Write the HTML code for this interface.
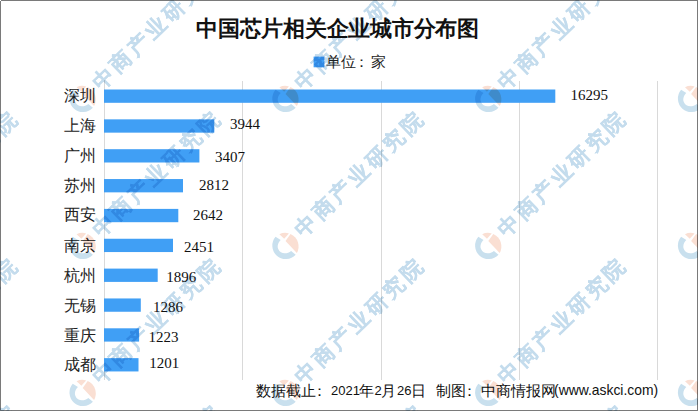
<!DOCTYPE html>
<html><head><meta charset="utf-8">
<style>
html,body{margin:0;padding:0;background:#fff;}
body{width:698px;height:412px;position:relative;overflow:hidden;font-family:"Liberation Sans",sans-serif;}
.frame{position:absolute;left:0;top:0;width:698px;height:411px;box-sizing:border-box;border:1px solid #7a7a7a;}
.t{position:absolute;white-space:nowrap;line-height:1;}
.title{font-weight:bold;font-size:22px;color:#111;left:196px;top:18px;letter-spacing:-0.25px;}
.legend{font-size:15px;color:#222;left:326px;top:53.5px;}
.colon{position:relative;left:-2.5px;}
.cat{font-size:16px;color:#222;width:60px;text-align:right;left:35.7px;}
.val{font-family:"Liberation Serif",serif;font-size:15px;color:#111;}
.foot{font-size:15px;color:#111;top:382.5px;}
.foot2{font-size:13px;color:#111;top:383.5px;}
svg{position:absolute;left:0;top:0;}
.wmsvg{mix-blend-mode:multiply;}
</style></head><body>
<div class="frame"></div>
<svg width="698" height="412" viewBox="0 0 698 412">
  <g fill="#d9d9d9">
    <rect x="104" y="80" width="1" height="300"/>
    <rect x="242" y="81" width="1" height="299"/>
    <rect x="381" y="81" width="1" height="299"/>
    <rect x="519" y="81" width="1" height="299"/>
    <rect x="657" y="81" width="1" height="299"/>
  </g>
  <g fill="#409ff5">
    <rect x="104" y="89.5" width="451.3" height="13.3"/>
    <rect x="104" y="119.35" width="110.3" height="13.3"/>
    <rect x="104" y="149.2" width="95.4" height="13.3"/>
    <rect x="104" y="179.05" width="79" height="13.3"/>
    <rect x="104" y="208.9" width="74.3" height="13.3"/>
    <rect x="104" y="238.75" width="69" height="13.3"/>
    <rect x="104" y="268.6" width="53.7" height="13.3"/>
    <rect x="104" y="298.45" width="36.8" height="13.3"/>
    <rect x="104" y="328.3" width="35.1" height="13.3"/>
    <rect x="104" y="358.15" width="34.5" height="13.3"/>
  </g>
  <rect x="313.6" y="56.6" width="10.8" height="10.7" fill="#409ff5"/>
</svg>

<div class="t title">中国芯片相关企业城市分布图</div>
<div class="t legend">单位<span class="colon">：</span>家</div>

<div class="t cat" style="top:88px">深圳</div>
<div class="t cat" style="top:117.7px">上海</div>
<div class="t cat" style="top:148.2px">广州</div>
<div class="t cat" style="top:178.2px">苏州</div>
<div class="t cat" style="top:207.4px">西安</div>
<div class="t cat" style="top:238.2px">南京</div>
<div class="t cat" style="top:267.7px">杭州</div>
<div class="t cat" style="top:297.7px">无锡</div>
<div class="t cat" style="top:327.7px">重庆</div>
<div class="t cat" style="top:357px">成都</div>

<div class="t val" style="left:570.5px;top:87.5px">16295</div>
<div class="t val" style="left:230px;top:117px">3944</div>
<div class="t val" style="left:215px;top:150px">3407</div>
<div class="t val" style="left:199px;top:178px">2812</div>
<div class="t val" style="left:193px;top:207.5px">2642</div>
<div class="t val" style="left:184px;top:239.5px">2451</div>
<div class="t val" style="left:166.3px;top:270px">1896</div>
<div class="t val" style="left:153px;top:300px">1286</div>
<div class="t val" style="left:148.5px;top:329.5px">1223</div>
<div class="t val" style="left:149.3px;top:356px">1201</div>

<div class="t foot" style="left:256px">数据截止<span class="colon" style="left:-4px">：</span></div>
<div class="t foot2" style="left:331px">2021</div>
<div class="t foot" style="left:359px">年</div>
<div class="t foot2" style="left:374.5px">2</div>
<div class="t foot" style="left:381px">月</div>
<div class="t foot2" style="left:397px">26</div>
<div class="t foot" style="left:410.5px">日</div>
<div class="t foot" style="left:436px">制图<span class="colon" style="left:-4px">：</span>中商情报网</div>
<div class="t foot2" style="left:554px;font-size:13.9px;top:384px">(www.askci.com)</div>

<svg class="wmsvg" width="698" height="411" viewBox="0 0 698 411">
 <defs>
  <g id="wm">
   <g transform="translate(0,0.4) scale(1.04)">
   <path d="M-9.2,-9.2 A13 13 0 0 0 10.2,8.1 L5.8,4.4 C2,7.6 -4.5,7.8 -6.6,2.6 C-8,-1 -6.2,-4.2 -4.2,-6.2 Z" fill="#c9e0ee"/>
   <path d="M0.4,-5.2 L5.2,-11.9 A13 13 0 0 1 11.3,6.4 Z" fill="#fadfd3"/>
   <path d="M-5.5,-11.8 A13 13 0 0 1 3.7,-12.5 L-0.9,-7.4 Z" fill="#fadfd3"/>
   </g>
   <text transform="rotate(-44)" x="18.7" y="6.9" font-family="Liberation Sans, sans-serif" font-size="21" font-weight="bold" letter-spacing="3.4" fill="#c4dced" stroke="#c4dced" stroke-width="0.2">中商产业研究院</text>
  </g>
 </defs>
  <use href="#wm" x="-120.5" y="-48.0"/>
  <use href="#wm" x="82.3" y="-48.0"/>
  <use href="#wm" x="285.1" y="-48.0"/>
  <use href="#wm" x="487.9" y="-48.0"/>
  <use href="#wm" x="690.7" y="-48.0"/>
  <use href="#wm" x="-120.5" y="99.0"/>
  <use href="#wm" x="82.3" y="99.0"/>
  <use href="#wm" x="285.1" y="99.0"/>
  <use href="#wm" x="487.9" y="99.0"/>
  <use href="#wm" x="690.7" y="99.0"/>
  <use href="#wm" x="-120.5" y="246.0"/>
  <use href="#wm" x="82.3" y="246.0"/>
  <use href="#wm" x="285.1" y="246.0"/>
  <use href="#wm" x="487.9" y="246.0"/>
  <use href="#wm" x="690.7" y="246.0"/>
  <use href="#wm" x="-120.5" y="393.0"/>
  <use href="#wm" x="82.3" y="393.0"/>
  <use href="#wm" x="285.1" y="393.0"/>
  <use href="#wm" x="487.9" y="393.0"/>
  <use href="#wm" x="690.7" y="393.0"/>
  <use href="#wm" x="-120.5" y="540.0"/>
  <use href="#wm" x="82.3" y="540.0"/>
  <use href="#wm" x="285.1" y="540.0"/>
  <use href="#wm" x="487.9" y="540.0"/>
  <use href="#wm" x="690.7" y="540.0"/>
</svg>
<div style="position:absolute;left:0;top:0;width:1px;height:1px;background:#fff"></div>
</body></html>
